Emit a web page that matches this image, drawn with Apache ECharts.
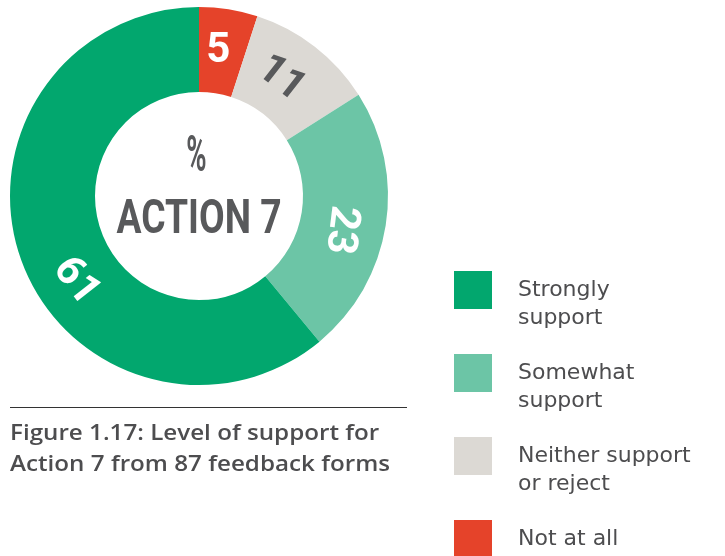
<!DOCTYPE html>
<html>
<head>
<meta charset="utf-8">
<script src="https://cdn.jsdelivr.net/npm/echarts@6/dist/echarts.min.js"></script>
<style>
  html, body { margin: 0; padding: 0; background: #fff; }
  #donut { width: 725px; height: 556px; }
</style>
</head>
<body>
<div id="donut"></div>
<script>
var categories = ['Not at all', 'Neither support\nor reject', 'Somewhat\nsupport', 'Strongly\nsupport'];
var values = [5, 11, 23, 61];
var colors = ['#e5432a', '#dcd9d4', '#6cc5a6', '#02a76e'];
var legendOrder = [3, 2, 1, 0];

var chart = echarts.init(document.getElementById('donut'));

/* label styling per slice (offset is in the label's rotated frame) */
var labelLook = [
  { color: '#fff', rotate: 0, offset: [-4, 3] },
  { color: '#58595b', rotate: -38, offset: [-7, 7] },
  { color: '#fff', rotate: -97, offset: [11, 5] },
  { color: '#fff', rotate: -52, offset: [38, 8] }
];

var pieData = values.map(function (v, i) {
  return {
    name: categories[i],
    value: v,
    itemStyle: { color: colors[i] },
    label: labelLook[i]
  };
});

/* blank line above (and below for one-liners) so the first line sits level with the swatch */
function legendText(name) {
  return name.indexOf('\n') >= 0 ? '\n' + name : '\n' + name + '\n';
}

var option = {
  animation: false,
  legend: {
    orient: 'vertical',
    left: 454,
    top: 248,
    height: 400,
    padding: 0,
    itemWidth: 38,
    itemHeight: 38,
    itemGap: -1,
    icon: 'rect',
    selectedMode: false,
    data: legendOrder.map(function (i) { return categories[i]; }),
    formatter: legendText,
    textStyle: {
      fontFamily: 'DejaVu Sans',
      fontSize: 22,
      lineHeight: 28,
      color: '#4d4d4f',
      padding: [0, 0, 0, 21]
    }
  },
  series: [{
    type: 'pie',
    center: [199, 196],
    radius: [104, 189],
    startAngle: 90,
    clockwise: true,
    silent: true,
    data: pieData,
    label: {
      show: true,
      position: 'inside',
      formatter: '{c}',
      fontFamily: 'Roboto',
      fontWeight: 'bold',
      fontSize: 42
    },
    labelLine: { show: false }
  }],
  graphic: [
    {
      type: 'text', x: 196.5, y: 158, scaleX: 0.55,
      style: {
        x: 0, y: 0, text: '%', fill: '#58595b',
        font: 'bold 50px Roboto', align: 'center', verticalAlign: 'middle'
      }
    },
    {
      type: 'text', x: 199, y: 221, scaleX: 0.76,
      style: {
        x: 0, y: 0, text: 'ACTION 7', fill: '#58595b',
        font: 'bold 49px Roboto', align: 'center', verticalAlign: 'middle'
      }
    },
    {
      type: 'line',
      shape: { x1: 10, y1: 407.5, x2: 407, y2: 407.5 },
      style: { stroke: '#333', lineWidth: 1 }
    },
    {
      type: 'text', x: 10, y: 418, scaleX: 1.1,
      style: {
        x: 0, y: 0, text: 'Figure 1.17: Level of support for\nAction 7 from 87 feedback forms',
        fill: '#4d4d4f', font: '600 22px "Open Sans"', lineHeight: 31
      }
    }
  ]
};

option && chart.setOption(option);
</script>
</body>
</html>
